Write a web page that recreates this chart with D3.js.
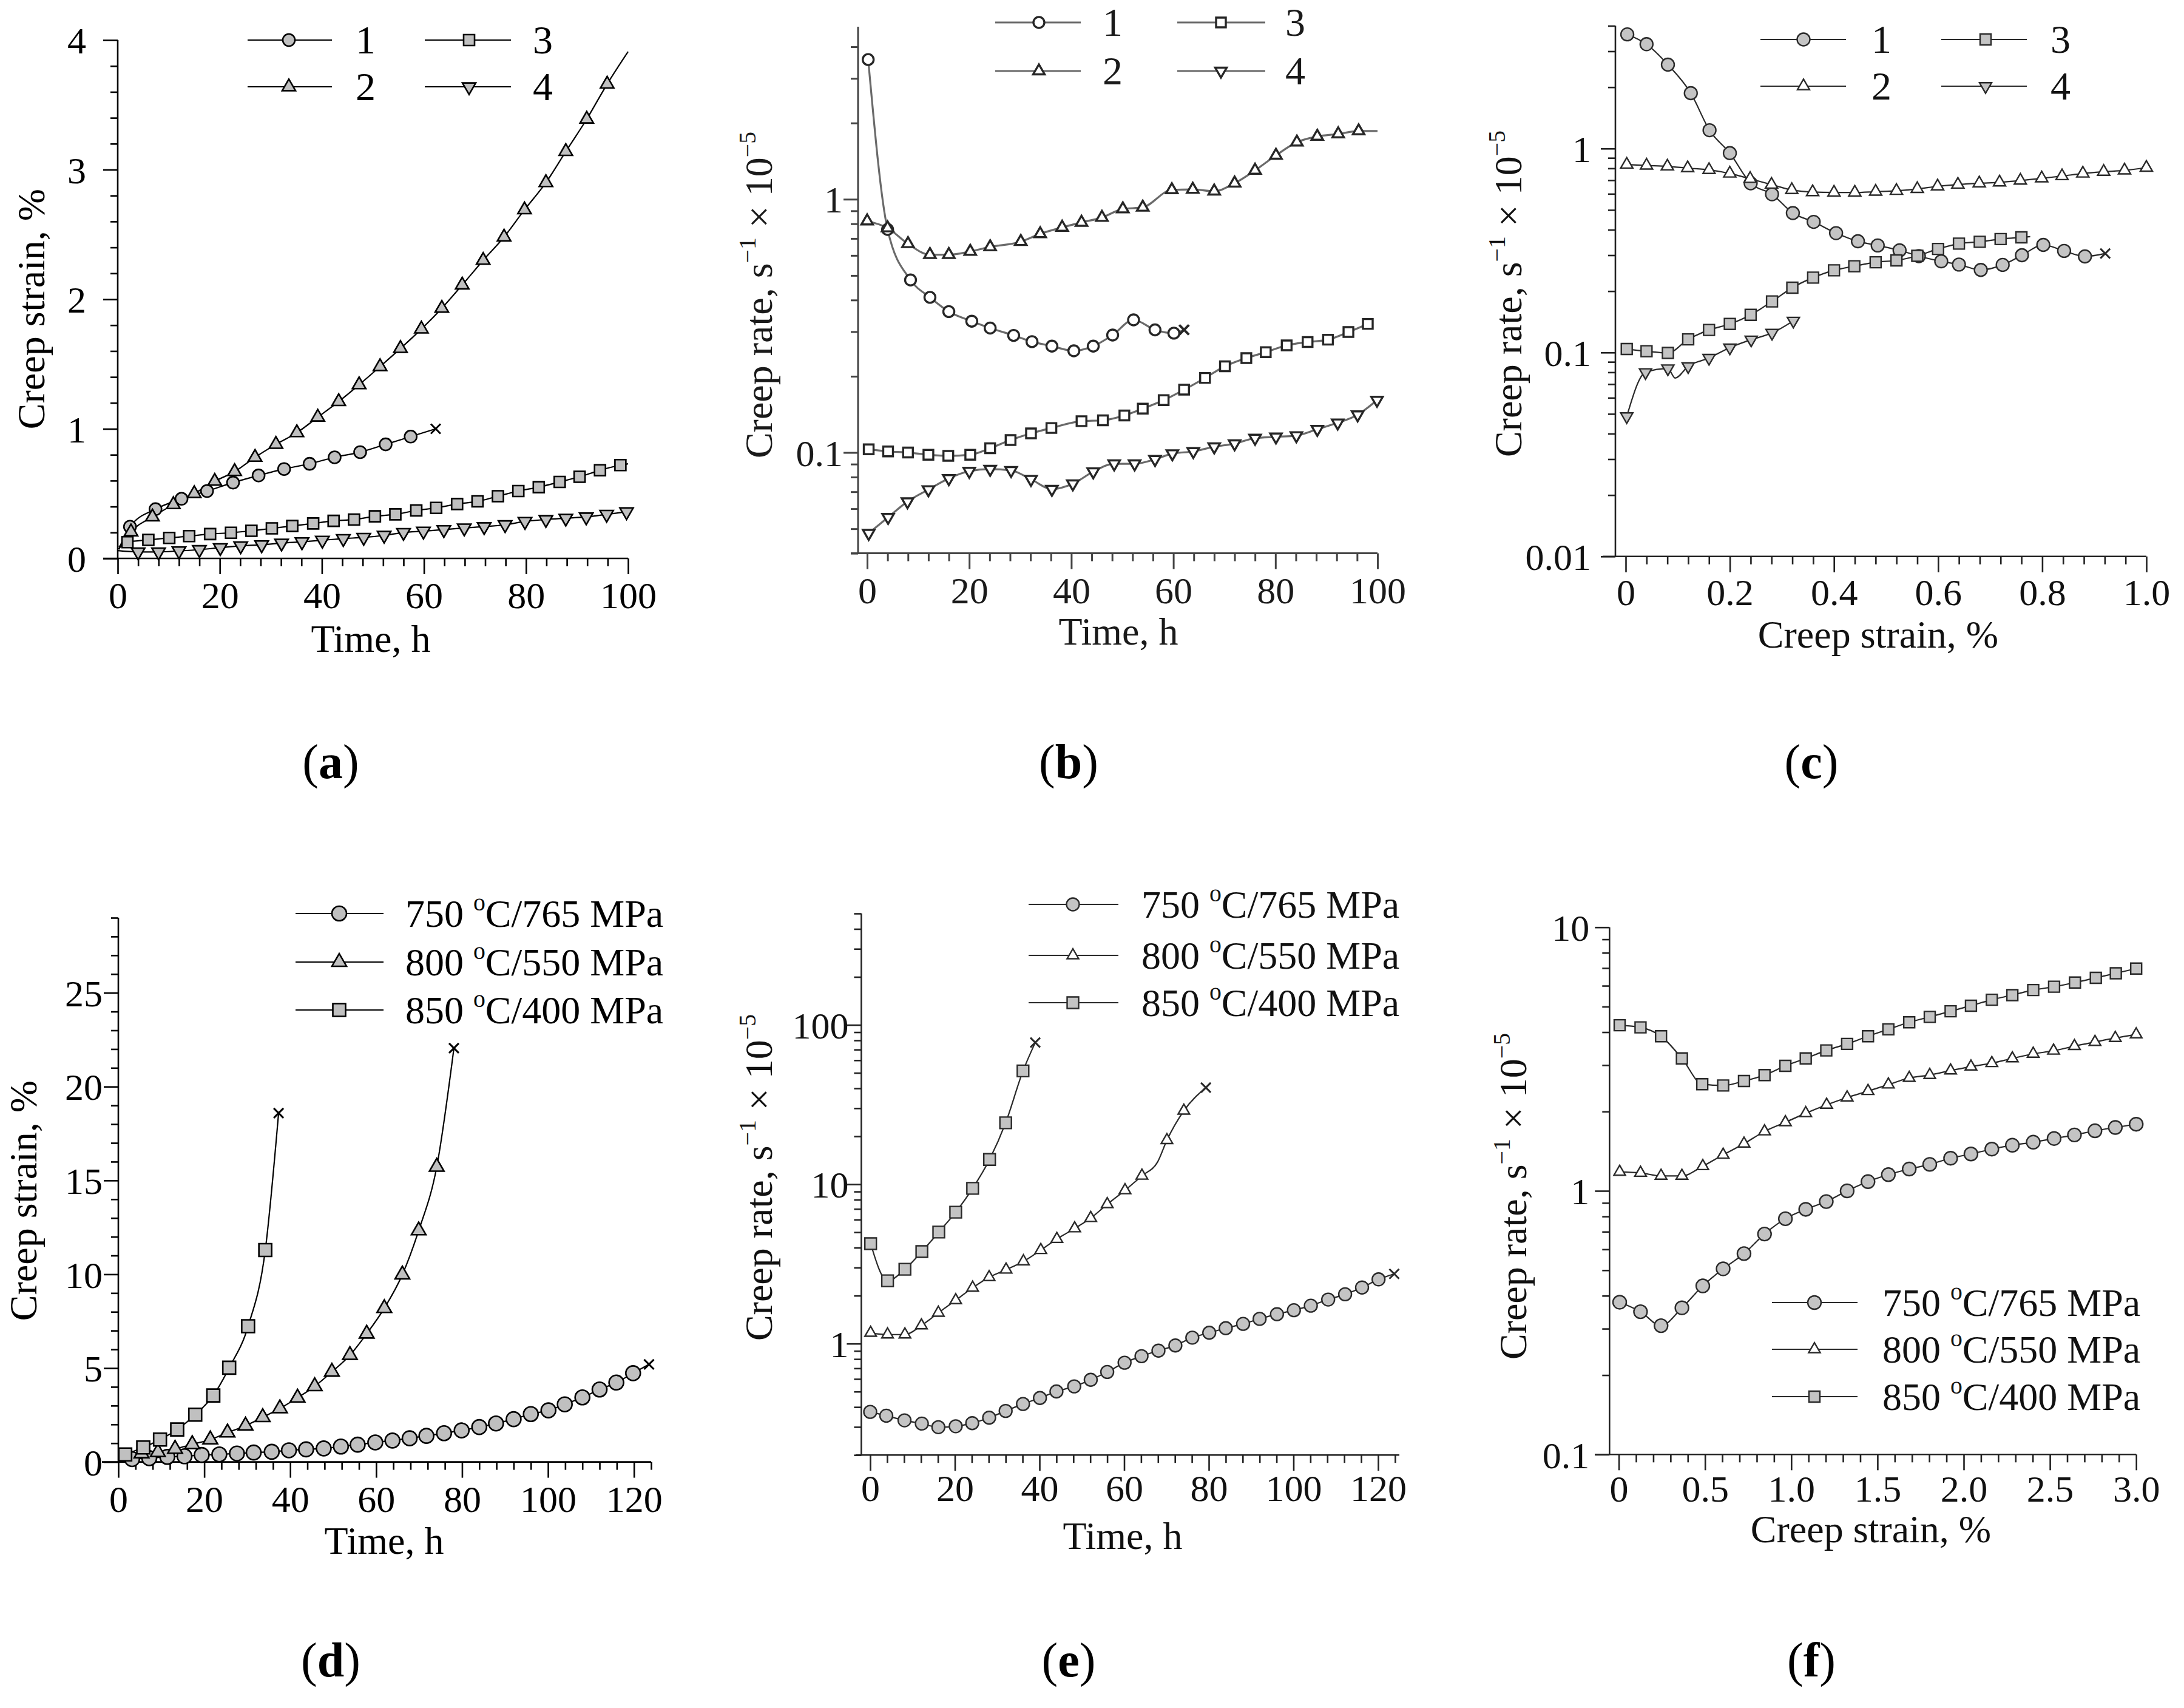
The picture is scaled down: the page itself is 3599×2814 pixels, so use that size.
<!DOCTYPE html>
<html>
<head>
<meta charset="utf-8">
<script src="https://cdn.jsdelivr.net/npm/d3@7"></script>
<style>
body { margin: 0; background: #fff; }
text { font-family: "Liberation Serif", "Times New Roman", serif; }
</style>
</head>
<body>
<svg id="fig" width="3599" height="2814"></svg>
<script>
// ---------- data ----------
// point = [x, y, m]  m: 1 = marker, 0 = line only, 2 = rupture cross
var curveLabels = ["1", "2", "3", "4"];
var temps = ["750", "800", "850"];
var stresses = ["765", "550", "400"];

// (a) creep strain (%) vs time (h)
var a1 = [[0.2,0.07,0],[2.4,0.245,1],[7.4,0.38,1],[12.5,0.46,1],[17.5,0.52,1],[22.6,0.585,1],[27.6,0.64,1],[32.6,0.69,1],[37.6,0.73,1],[42.5,0.78,1],[47.5,0.82,1],[52.5,0.88,1],[57.4,0.94,1],[62.3,1.0,2]];
var a2 = [[0.2,0.07,0],[2.6,0.205,1],[6.8,0.32,1],[10.9,0.415,1],[15.0,0.50,1],[19.0,0.595,1],[22.9,0.67,1],[26.9,0.78,1],[31.0,0.88,1],[35.1,0.97,1],[39.2,1.09,1],[43.3,1.21,1],[47.3,1.34,1],[51.4,1.48,1],[55.4,1.62,1],[59.5,1.77,1],[63.5,1.93,1],[67.5,2.11,1],[71.6,2.30,1],[75.7,2.48,1],[79.7,2.69,1],[83.9,2.90,1],[87.8,3.14,1],[91.9,3.39,1],[95.9,3.66,1],[100,3.91,0]];
var a3 = [[0.2,0.09,0],[1.9,0.125,1],[6.0,0.143,1],[10.1,0.158,1],[14.0,0.172,1],[18.1,0.188,1],[22.2,0.198,1],[26.2,0.213,1],[30.2,0.232,1],[34.2,0.25,1],[38.3,0.27,1],[42.3,0.29,1],[46.3,0.30,1],[50.4,0.325,1],[54.4,0.34,1],[58.5,0.37,1],[62.4,0.39,1],[66.5,0.42,1],[70.5,0.44,1],[74.5,0.48,1],[78.5,0.52,1],[82.5,0.55,1],[86.6,0.59,1],[90.5,0.63,1],[94.5,0.68,1],[98.5,0.72,1],[100,0.73,0]];
var a4 = [[0,0.06,0],[4.0,0.05,1],[8.0,0.05,1],[12.0,0.058,1],[16.0,0.068,1],[20.1,0.083,1],[24.1,0.097,1],[28.2,0.105,1],[32.1,0.118,1],[36.1,0.128,1],[40.1,0.14,1],[44.2,0.153,1],[48.2,0.162,1],[52.2,0.178,1],[56.0,0.20,1],[59.9,0.21,1],[63.9,0.222,1],[67.9,0.235,1],[71.8,0.245,1],[75.9,0.26,1],[79.8,0.285,1],[83.9,0.30,1],[87.8,0.31,1],[91.8,0.32,1],[95.8,0.34,1],[99.7,0.36,1]];

// (b) creep rate vs time
var b1 = [[0.2,3.56,1],[4.0,0.76,1],[8.5,0.48,1],[12.3,0.41,1],[16.0,0.36,1],[20.5,0.33,1],[24.1,0.31,1],[28.7,0.29,1],[32.3,0.274,1],[36.2,0.263,1],[40.5,0.252,1],[44.3,0.263,1],[48.1,0.291,1],[52.2,0.334,1],[56.4,0.305,1],[60.1,0.296,1],[62.1,0.305,2]];
var b2 = [[0,0.82,1],[4.0,0.77,1],[8.0,0.667,1],[12.3,0.604,1],[16.0,0.604,1],[20.2,0.622,1],[24.1,0.648,1],[30.1,0.68,1],[33.9,0.73,1],[38.2,0.774,1],[42.0,0.81,1],[46.0,0.847,1],[50.1,0.915,1],[54.0,0.929,1],[59.7,1.089,1],[63.8,1.093,1],[68.0,1.076,1],[72.0,1.157,1],[76.0,1.30,1],[80.1,1.49,1],[84.2,1.68,1],[88.2,1.77,1],[92.3,1.81,1],[96.3,1.86,1],[100,1.86,0]];
var b3 = [[0.3,0.103,1],[4.1,0.101,1],[8.0,0.1,1],[12.0,0.098,1],[15.9,0.097,1],[20.2,0.098,1],[24.1,0.104,1],[28.1,0.112,1],[32.1,0.119,1],[36.1,0.125,1],[42.0,0.133,1],[46.2,0.134,1],[50.4,0.14,1],[54.0,0.149,1],[58.1,0.161,1],[62.1,0.177,1],[66.2,0.197,1],[70.1,0.219,1],[74.3,0.236,1],[78.1,0.249,1],[82.2,0.265,1],[86.3,0.273,1],[90.3,0.279,1],[94.3,0.299,1],[98.1,0.322,1]];
var b4 = [[0.3,0.048,1],[4.1,0.0555,1],[7.9,0.064,1],[12.0,0.0714,1],[16.0,0.079,1],[20.0,0.0844,1],[24.1,0.086,1],[28.2,0.085,1],[32.1,0.0784,1],[36.2,0.0717,1],[40.3,0.0753,1],[44.3,0.084,1],[48.4,0.0903,1],[52.4,0.0903,1],[56.4,0.094,1],[59.8,0.099,1],[63.9,0.101,1],[68.0,0.1054,1],[72.0,0.1084,1],[76.0,0.114,1],[80.1,0.1153,1],[84.1,0.1167,1],[88.2,0.1236,1],[92.2,0.131,1],[96.1,0.141,1],[99.9,0.161,1]];

// (c) creep rate vs creep strain
var c1 = [[0.003,3.63,1],[0.04,3.25,1],[0.081,2.58,1],[0.125,1.87,1],[0.161,1.23,1],[0.2,0.95,1],[0.24,0.676,1],[0.281,0.597,1],[0.321,0.483,1],[0.361,0.437,1],[0.404,0.385,1],[0.446,0.351,1],[0.484,0.335,1],[0.526,0.317,1],[0.563,0.297,1],[0.606,0.28,1],[0.64,0.27,1],[0.682,0.254,1],[0.724,0.269,1],[0.761,0.30,1],[0.802,0.337,1],[0.842,0.315,1],[0.882,0.296,1],[0.921,0.306,2]];
var c2 = [[0.002,0.835,1],[0.04,0.826,1],[0.08,0.818,1],[0.119,0.802,1],[0.16,0.786,1],[0.2,0.755,1],[0.239,0.711,1],[0.28,0.666,1],[0.319,0.627,1],[0.359,0.612,1],[0.40,0.609,1],[0.44,0.609,1],[0.48,0.615,1],[0.52,0.621,1],[0.56,0.634,1],[0.599,0.653,1],[0.638,0.666,1],[0.679,0.676,1],[0.718,0.683,1],[0.758,0.697,1],[0.799,0.715,1],[0.838,0.733,1],[0.878,0.755,1],[0.918,0.77,1],[0.958,0.782,1],[1.0,0.806,1]];
var c3 = [[0.002,0.104,1],[0.04,0.1015,1],[0.081,0.0995,1],[0.12,0.116,1],[0.16,0.129,1],[0.2,0.138,1],[0.24,0.153,1],[0.281,0.178,1],[0.32,0.208,1],[0.36,0.233,1],[0.40,0.253,1],[0.439,0.265,1],[0.48,0.277,1],[0.52,0.283,1],[0.56,0.298,1],[0.60,0.322,1],[0.64,0.342,1],[0.68,0.349,1],[0.72,0.36,1],[0.76,0.367,1],[0.777,0.37,0]];
var c4 = [[0.002,0.0486,1],[0.038,0.080,1],[0.081,0.0835,1],[0.095,0.075,0],[0.12,0.0856,1],[0.16,0.094,1],[0.2,0.1057,1],[0.241,0.1156,1],[0.281,0.1247,1],[0.322,0.143,1]];

// (d) creep strain vs time, three test conditions
var d750 = [[0,0,0],[3.2,0.15,1],[7.2,0.2,1],[11.4,0.27,1],[15.4,0.30,1],[19.4,0.37,1],[23.5,0.40,1],[27.6,0.45,1],[31.5,0.50,1],[35.7,0.54,1],[39.7,0.62,1],[43.7,0.67,1],[47.8,0.72,1],[51.8,0.82,1],[55.7,0.92,1],[59.8,1.04,1],[63.8,1.14,1],[67.8,1.26,1],[71.7,1.39,1],[75.8,1.53,1],[79.9,1.68,1],[84.0,1.86,1],[87.9,2.05,1],[92.0,2.28,1],[96.0,2.55,1],[100.1,2.75,1],[103.9,3.07,1],[108.0,3.44,1],[112.0,3.86,1],[115.9,4.23,1],[119.8,4.73,1],[123.5,5.2,2]];
var d800 = [[0,0,0],[5.4,0.45,1],[9.2,0.52,1],[13.2,0.69,1],[17.2,0.94,1],[21.4,1.19,1],[25.4,1.56,1],[29.6,1.93,1],[33.6,2.38,1],[37.6,2.85,1],[41.7,3.42,1],[45.7,4.03,1],[49.7,4.80,1],[53.9,5.69,1],[57.8,6.83,1],[61.9,8.19,1],[66.1,9.98,1],[69.9,12.33,1],[74.1,15.72,1],[78.1,22.05,2]];
var d850 = [[1.6,0.40,1],[5.8,0.77,1],[9.7,1.19,1],[13.7,1.73,1],[17.9,2.52,1],[22.1,3.54,1],[25.8,5.02,1],[30.2,7.23,1],[34.2,11.29,1],[37.3,18.59,2]];

// (e) creep rate vs time
var e750 = [[0,0.373,1],[3.8,0.353,1],[8.1,0.33,1],[12.2,0.315,1],[16.1,0.299,1],[20.2,0.303,1],[24.1,0.317,1],[28.1,0.343,1],[32.0,0.378,1],[36.1,0.418,1],[40.1,0.456,1],[44.0,0.501,1],[48.2,0.539,1],[52.1,0.593,1],[56.0,0.664,1],[60.1,0.759,1],[64.1,0.834,1],[68.1,0.904,1],[72.1,0.974,1],[76.1,1.09,1],[80.1,1.17,1],[84.0,1.25,1],[88.1,1.33,1],[92.0,1.43,1],[96.1,1.53,1],[100.1,1.62,1],[104.1,1.73,1],[108.2,1.89,1],[112.2,2.04,1],[116.2,2.25,1],[120.1,2.53,1],[123.8,2.74,2]];
var e800 = [[0.1,1.167,1],[4.1,1.14,1],[8.2,1.14,1],[12.1,1.30,1],[16.1,1.56,1],[20.2,1.87,1],[24.2,2.24,1],[28.1,2.61,1],[32.1,2.91,1],[36.2,3.28,1],[40.3,3.86,1],[44.1,4.53,1],[48.3,5.28,1],[52.1,6.13,1],[56.0,7.49,1],[60.2,9.16,1],[64.2,11.3,1],[67.9,13.8,0],[70.1,18.9,1],[74.1,28.9,1],[79.3,40.4,2]];
var e850 = [[0.1,4.24,1],[4.1,2.48,1],[8.2,2.93,1],[12.2,3.78,1],[16.2,5.01,1],[20.2,6.68,1],[24.2,9.42,1],[28.2,14.3,1],[32.0,24.3,1],[36.1,51.4,1],[39.0,77.5,2]];

// (f) creep rate vs creep strain
var f750 = [[0.005,0.378,1],[0.126,0.348,1],[0.245,0.308,1],[0.366,0.36,1],[0.487,0.436,1],[0.605,0.506,1],[0.726,0.578,1],[0.845,0.686,1],[0.966,0.784,1],[1.084,0.851,1],[1.203,0.911,1],[1.324,1.0,1],[1.445,1.084,1],[1.563,1.152,1],[1.684,1.21,1],[1.803,1.26,1],[1.924,1.33,1],[2.042,1.38,1],[2.163,1.44,1],[2.282,1.49,1],[2.403,1.53,1],[2.524,1.58,1],[2.642,1.63,1],[2.761,1.69,1],[2.879,1.74,1],[3.0,1.79,1]];
var f800 = [[0.005,1.18,1],[0.126,1.17,1],[0.245,1.14,1],[0.366,1.14,1],[0.487,1.24,1],[0.605,1.37,1],[0.726,1.51,1],[0.845,1.68,1],[0.966,1.82,1],[1.084,1.97,1],[1.205,2.12,1],[1.324,2.26,1],[1.445,2.39,1],[1.563,2.53,1],[1.684,2.68,1],[1.803,2.75,1],[1.924,2.86,1],[2.042,2.96,1],[2.163,3.05,1],[2.282,3.18,1],[2.403,3.31,1],[2.521,3.40,1],[2.642,3.54,1],[2.761,3.67,1],[2.879,3.80,1],[3.0,3.92,1]];
var f850 = [[0.005,4.25,1],[0.126,4.17,1],[0.245,3.86,1],[0.366,3.18,1],[0.484,2.54,1],[0.605,2.51,1],[0.726,2.61,1],[0.845,2.75,1],[0.966,2.98,1],[1.084,3.18,1],[1.203,3.41,1],[1.324,3.61,1],[1.445,3.86,1],[1.563,4.10,1],[1.684,4.36,1],[1.803,4.57,1],[1.924,4.80,1],[2.042,5.04,1],[2.163,5.31,1],[2.282,5.53,1],[2.403,5.78,1],[2.524,5.95,1],[2.645,6.17,1],[2.766,6.43,1],[2.882,6.69,1],[3.0,6.97,1]];

// tick values
var timeTicks100 = [0, 20, 40, 60, 80, 100];
var timeTicks120 = [0, 20, 40, 60, 80, 100, 120];
var strainTicksA = [0, 1, 2, 3, 4];
var strainTicksD = [0, 5, 10, 15, 20, 25];
var strainTicksC = [0, 0.2, 0.4, 0.6, 0.8, 1.0];
var strainTicksF = [0, 0.5, 1.0, 1.5, 2.0, 2.5, 3.0];
var rateTicksB = [0.1, 1];
var rateTicksC = [0.01, 0.1, 1];
var rateTicksE = [1, 10, 100];
var rateTicksF = [0.1, 1, 10];

// ---------- drawing ----------
var svg = d3.select("#fig");
svg.append("rect").attr("width", 3599).attr("height", 2814).attr("fill", "#fff");

var TICK_FS = 62, TITLE_FS = 64;

function rich(t, parts, fs) {
  var shift = 0;
  parts.forEach(function(p) {
    var s = t.append("tspan").text(p[0]);
    var want = p[1] === "sup" ? -0.42 * fs : 0;
    if (want !== shift) { s.attr("dy", want - shift); shift = want; }
    if (p[1] === "sup") s.attr("font-size", fs * 0.62);
    if (p[1] === "b") s.attr("font-weight", "bold");
  });
}

var strainTitle = [["Creep strain, %"]];
var rateTitle = [["Creep rate, s"], ["\u22121", "sup"], [" \u00d7 10"], ["\u22125", "sup"]];

function linMinor(lo, hi, step, majors) {
  return d3.range(lo, hi + step / 2, step).filter(function(v) {
    return !majors.some(function(m) { return Math.abs(m - v) < step / 10; });
  });
}
function logMinor(lo, hi) {
  var out = [];
  for (var e = Math.floor(Math.log10(lo)); e <= Math.ceil(Math.log10(hi)); e++) {
    for (var k = 2; k <= 9; k++) {
      var v = k * Math.pow(10, e);
      if (v >= lo * 0.999 && v <= hi * 1.001) out.push(v);
    }
  }
  return out;
}
function fmt1(v) { return v === 0 ? "0" : d3.format(".1f")(v); }

function symbolPath(kind, sz) {
  if (kind === "circle") return d3.symbol(d3.symbolCircle, Math.PI * sz.circle * sz.circle / 4)();
  if (kind === "square") return d3.symbol(d3.symbolSquare, sz.square * sz.square)();
  return d3.symbol(d3.symbolTriangle, Math.sqrt(3) / 4 * sz.tri * sz.tri)();
}

function marker(g, kind, cx, cy, st, sz, open) {
  g.append("path")
    .attr("d", symbolPath(kind, sz))
    .attr("transform", "translate(" + cx + "," + cy + ")" + (kind === "tridown" ? " rotate(180)" : ""))
    .attr("fill", open ? "#fff" : st.fill)
    .attr("stroke", st.ms)
    .attr("stroke-width", st.mw);
}

function cross(g, cx, cy, st) {
  var h = 8;
  g.append("path")
    .attr("d", "M" + (cx - h) + "," + (cy - h) + "L" + (cx + h) + "," + (cy + h) + "M" + (cx - h) + "," + (cy + h) + "L" + (cx + h) + "," + (cy - h))
    .attr("stroke", st.ms).attr("stroke-width", st.lw + 0.8).attr("fill", "none");
}

function styleAxis(sel, color, w) {
  sel.select(".domain").remove();
  sel.attr("font-family", null).attr("font-size", null);
  sel.selectAll("line").attr("stroke", color).attr("stroke-width", w);
}

function drawPanel(p) {
  var st = p.style;
  var g = svg.append("g");
  var x = d3.scaleLinear().domain(p.xDom).range(p.xPx);
  var y = (p.log ? d3.scaleLog() : d3.scaleLinear()).domain(p.yDom).range(p.yPx);
  var y0 = p.yPx[0];

  // axis lines
  g.append("line").attr("x1", p.xLine[0]).attr("x2", p.xLine[1]).attr("y1", y0).attr("y2", y0)
    .attr("stroke", st.axis).attr("stroke-width", st.aw);
  g.append("line").attr("x1", p.yAxisX).attr("x2", p.yAxisX).attr("y1", y0).attr("y2", p.yPx[1])
    .attr("stroke", st.axis).attr("stroke-width", st.aw);

  // x ticks
  var gxm = g.append("g").attr("transform", "translate(0," + y0 + ")")
    .call(d3.axisBottom(x).tickValues(linMinor(p.xMin[0], p.xMin[1], p.xMin[2], p.xMajor)).tickSize(13).tickFormat(""));
  styleAxis(gxm, st.axis, st.aw);
  var gx = g.append("g").attr("transform", "translate(0," + y0 + ")")
    .call(d3.axisBottom(x).tickValues(p.xMajor).tickSize(26).tickFormat(p.xFmt));
  styleAxis(gx, st.axis, st.aw);
  gx.selectAll("text").attr("y", p.xLabOff).attr("dy", null)
    .attr("font-size", TICK_FS).attr("fill", st.text);

  // y ticks
  var yMinor = p.log ? logMinor(p.yDom[0], p.yDom[1]) : linMinor(p.yDom[0], p.yDom[1], p.yMinStep, p.yMajor);
  var gym = g.append("g").attr("transform", "translate(" + p.yAxisX + ",0)")
    .call(d3.axisLeft(y).tickValues(yMinor).tickSize(12).tickFormat(""));
  styleAxis(gym, st.axis, st.aw);
  var gy = g.append("g").attr("transform", "translate(" + p.yAxisX + ",0)")
    .call(d3.axisLeft(y).tickValues(p.yMajor).tickSize(24).tickFormat(function(v) { return String(v); }));
  styleAxis(gy, st.axis, st.aw);
  gy.selectAll("text").attr("x", -p.yLabGap).attr("dy", "0.35em")
    .attr("font-size", TICK_FS).attr("fill", st.text);

  // titles
  var xt = g.append("text").attr("x", p.xTitleX).attr("y", y0 + p.xTitleOff)
    .attr("text-anchor", "middle").attr("font-size", TITLE_FS).attr("fill", st.text);
  rich(xt, p.xTitle, TITLE_FS);
  var yt = g.append("text")
    .attr("transform", "translate(" + p.yTitleX + "," + p.yTitleY + ") rotate(-90)")
    .attr("text-anchor", "middle").attr("font-size", TITLE_FS).attr("fill", st.text);
  rich(yt, p.yTitle, TITLE_FS);

  // series
  var line = d3.line().x(function(d) { return x(d[0]); }).y(function(d) { return y(d[1]); })
    .curve(d3.curveMonotoneX);
  p.series.forEach(function(s) {
    g.append("path").datum(s.d).attr("d", line).attr("fill", "none")
      .attr("stroke", st.line).attr("stroke-width", st.lw).attr("stroke-linejoin", "round");
  });
  p.series.forEach(function(s) {
    s.d.forEach(function(d) {
      if (d[2] === 1) marker(g, s.sym, x(d[0]), y(d[1]), st, p.sizes, s.open);
      else if (d[2] === 2) cross(g, x(d[0]), y(d[1]), st);
    });
  });

  // legend
  var L = p.legend;
  p.series.forEach(function(s, i) {
    var col = L.cols[Math.floor(i / L.perCol)], ly = L.rows[i % L.perCol];
    g.append("line").attr("x1", col[0]).attr("x2", col[1]).attr("y1", ly).attr("y2", ly)
      .attr("stroke", st.line).attr("stroke-width", st.lw);
    marker(g, s.sym, col[2], ly, st, p.sizes, s.open);
    var t = g.append("text").attr("x", col[3]).attr("y", ly + L.fs * 0.34)
      .attr("font-size", L.fs).attr("fill", st.text);
    rich(t, L.labels[i], L.fs);
  });

  // panel tag
  var tg = svg.append("text").attr("x", p.tag[1]).attr("y", p.tag[2]).attr("text-anchor", "middle")
    .attr("font-size", 80).attr("fill", "#000");
  rich(tg, [["("], [p.tag[0], "b"], [")"]], 80);
}

function numLabels() { return curveLabels.map(function(l) { return [[l]]; }); }
function condLabels() {
  return temps.map(function(t, i) { return [[t + " "], ["o", "sup"], ["C/" + stresses[i] + " MPa"]]; });
}

var blackStyle = { axis: "#000", aw: 2.6, line: "#000", lw: 2.2, ms: "#000", mw: 2.6, fill: "#c0c0c0", text: "#000" };
var greyOpenStyle = { axis: "#444", aw: 3, line: "#6a6a6a", lw: 3.2, ms: "#262626", mw: 3.4, fill: "#fff", text: "#1a1a1a" };
var darkStyle = { axis: "#222", aw: 2.6, line: "#2a2a2a", lw: 2.2, ms: "#2a2a2a", mw: 2.4, fill: "#c4c4c4", text: "#111" };

var panels = [
  { tag: ["a", 545, 1282], style: blackStyle, log: false,
    xDom: [0, 100], xPx: [194, 1035], xLine: [170, 1035], yDom: [0, 4], yPx: [920, 66], yAxisX: 194,
    xMajor: timeTicks100, xMin: [0, 100, 4], xFmt: String, yMajor: strainTicksA, yMinStep: 0.2,
    yLabGap: 52, xLabOff: 82, xTitle: [["Time, h"]], xTitleX: 611, xTitleOff: 154,
    yTitle: strainTitle, yTitleX: 73, yTitleY: 509,
    sizes: { circle: 20, square: 18, tri: 22 },
    series: [{ d: a1, sym: "circle" }, { d: a2, sym: "tri" }, { d: a3, sym: "square" }, { d: a4, sym: "tridown" }],
    legend: { perCol: 2, rows: [66, 143], cols: [[408, 547, 476, 586], [700, 842, 773, 878]], fs: 66, labels: numLabels() } },
  { tag: ["b", 1761, 1282], style: greyOpenStyle, log: true,
    xDom: [0, 100], xPx: [1429, 2270], xLine: [1402, 2270], yDom: [0.04, 4.8], yPx: [911.6, 44], yAxisX: 1414,
    xMajor: timeTicks100, xMin: [0, 100, 4], xFmt: String, yMajor: rateTicksB,
    yLabGap: 25, xLabOff: 82, xTitle: [["Time, h"]], xTitleX: 1843, xTitleOff: 150,
    yTitle: rateTitle, yTitleX: 1272, yTitleY: 486,
    sizes: { circle: 18, square: 16, tri: 19 },
    series: [{ d: b1, sym: "circle", open: true }, { d: b2, sym: "tri", open: true }, { d: b3, sym: "square", open: true }, { d: b4, sym: "tridown", open: true }],
    legend: { perCol: 2, rows: [37, 117], cols: [[1640, 1781, 1712, 1817], [1940, 2085, 2012, 2118]], fs: 66, labels: numLabels() } },
  { tag: ["c", 2985, 1282], style: darkStyle, log: true,
    xDom: [0, 1], xPx: [2679, 3537], xLine: [2641, 3537], yDom: [0.01, 4], yPx: [916.8, 42.5], yAxisX: 2662,
    xMajor: strainTicksC, xMin: [0, 1, 0.04], xFmt: fmt1, yMajor: rateTicksC,
    yLabGap: 40, xLabOff: 80, xTitle: [["Creep strain, %"]], xTitleX: 3095, xTitleOff: 150,
    yTitle: rateTitle, yTitleX: 2507, yTitleY: 484,
    sizes: { circle: 21, square: 18, tri: 20 },
    series: [{ d: c1, sym: "circle" }, { d: c2, sym: "tri", open: true }, { d: c3, sym: "square" }, { d: c4, sym: "tridown" }],
    legend: { perCol: 2, rows: [65, 142], cols: [[2901, 3042, 2972, 3084], [3199, 3340, 3272, 3379]], fs: 66, labels: numLabels() } },
  { tag: ["d", 545, 2762], style: blackStyle, log: false,
    xDom: [0, 124], xPx: [195, 1073], xLine: [168, 1073], yDom: [0, 29], yPx: [2408.6, 1512], yAxisX: 195,
    xMajor: timeTicks120, xMin: [0, 124, 4], xFmt: String, yMajor: strainTicksD, yMinStep: 1,
    yLabGap: 26, xLabOff: 82, xTitle: [["Time, h"]], xTitleX: 633, xTitleOff: 151,
    yTitle: strainTitle, yTitleX: 60, yTitleY: 1978,
    sizes: { circle: 24, square: 21, tri: 24 },
    series: [{ d: d750, sym: "circle" }, { d: d800, sym: "tri" }, { d: d850, sym: "square" }],
    legend: { perCol: 3, rows: [1505, 1585, 1664], cols: [[487, 632, 559, 668]], fs: 64, labels: condLabels() } },
  { tag: ["e", 1761, 2762], style: darkStyle, log: true,
    xDom: [0, 120], xPx: [1434, 2271], xLine: [1410, 2306], yDom: [0.2, 500], yPx: [2397.2, 1505], yAxisX: 1419.4,
    xMajor: timeTicks120, xMin: [0, 124, 4], xFmt: String, yMajor: rateTicksE,
    yLabGap: 21, xLabOff: 76, xTitle: [["Time, h"]], xTitleX: 1850, xTitleOff: 155,
    yTitle: rateTitle, yTitleX: 1272, yTitleY: 1940,
    sizes: { circle: 21, square: 19, tri: 19 },
    series: [{ d: e750, sym: "circle" }, { d: e800, sym: "tri", open: true }, { d: e850, sym: "square" }],
    legend: { perCol: 3, rows: [1490, 1574, 1652], cols: [[1695, 1843, 1768, 1881]], fs: 64, labels: condLabels() } },
  { tag: ["f", 2985, 2762], style: darkStyle, log: true,
    xDom: [0, 3], xPx: [2667.6, 3520.2], xLine: [2628, 3520.2], yDom: [0.1, 10], yPx: [2396.3, 1527.7], yAxisX: 2652.3,
    xMajor: strainTicksF, xMin: [0, 3, 0.1], xFmt: fmt1, yMajor: rateTicksF,
    yLabGap: 33, xLabOff: 78, xTitle: [["Creep strain, %"]], xTitleX: 3083, xTitleOff: 145,
    yTitle: rateTitle, yTitleX: 2515, yTitleY: 1971,
    sizes: { circle: 22, square: 18, tri: 19 },
    series: [{ d: f750, sym: "circle" }, { d: f800, sym: "tri", open: true }, { d: f850, sym: "square" }],
    legend: { perCol: 3, rows: [2146, 2223, 2301], cols: [[2920, 3061, 2990, 3102]], fs: 64, labels: condLabels() } }
];

panels.forEach(drawPanel);
</script>
</body>
</html>
